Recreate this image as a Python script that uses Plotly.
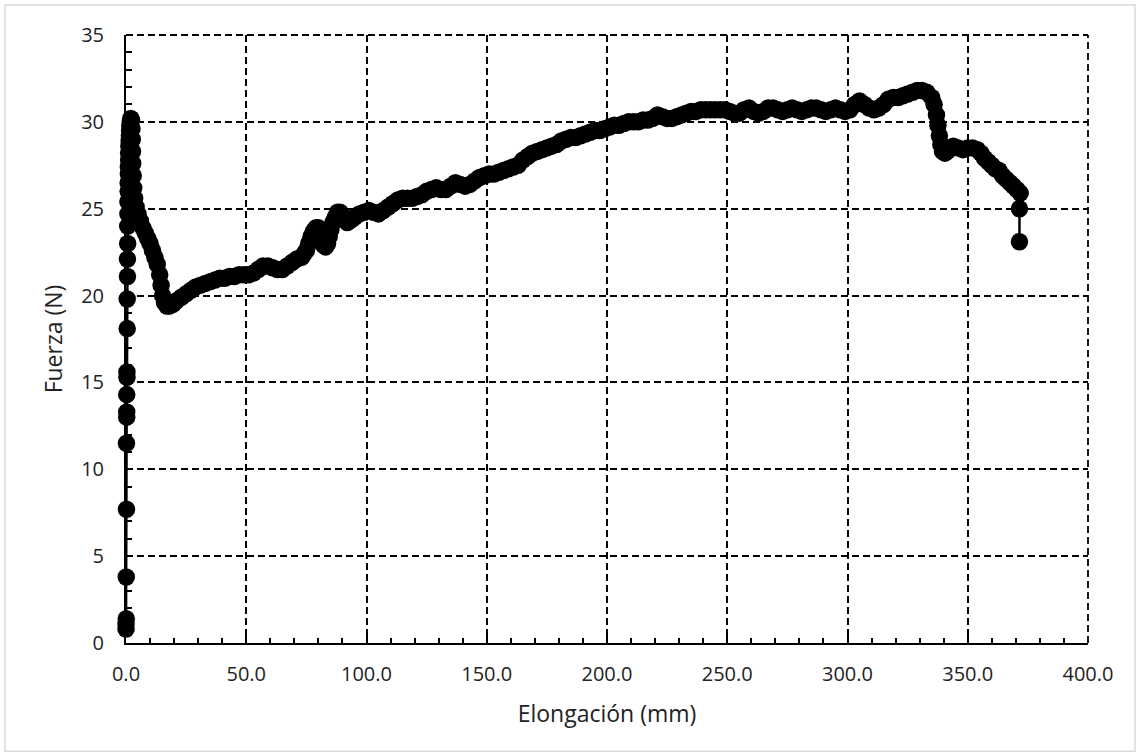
import plotly.graph_objects as go

elongacion = [
    0.0, 0.0, 0.1, 0.1, 0.2, 0.2, 0.3, 0.3, 0.3, 0.4, 0.4, 0.5, 0.5, 0.6, 0.6, 0.7, 0.7, 0.8, 0.8, 0.9,
    0.9, 1.0, 1.0, 1.1, 1.1, 1.2, 1.3, 1.4, 1.5, 1.6, 1.8, 2.0, 2.3, 2.5, 2.6, 2.7, 2.8, 3.0, 3.2, 3.6,
    4.2, 5.0, 6.0, 7.0, 8.0, 9.0, 10.0, 11.0, 12.0, 13.0, 14.0, 14.6, 15.2, 16.0, 17.0, 18.0, 19.5, 21.0,
    23, 25, 27, 29, 31, 33, 35, 37, 39, 41, 43, 45, 47, 49, 51, 53, 55, 57, 59, 61, 63, 65, 67, 69, 71,
    73, 74, 75, 76, 77, 78, 79, 80, 80.8, 81.5, 82.2, 83, 83.8, 84.5, 85.2, 86, 87, 88, 89, 90, 91, 92,
    93, 94, 95, 97, 99, 101, 103, 105, 107, 109, 111, 113,
    115, 117, 119, 121, 123, 125, 127, 129, 131, 133, 135, 137, 139, 141, 143, 145, 147, 149, 151, 153,
    155, 157, 159, 161, 163, 165, 167, 169, 171, 173, 175, 177, 179, 181, 183, 185, 187, 189, 191, 193,
    195, 197, 199, 201, 203, 205, 207, 209, 211, 213, 215, 217, 219, 221, 223, 225, 227, 229, 231, 233,
    235, 237, 239, 241, 243, 245, 247, 249, 251, 253, 255, 257, 259, 261, 263, 265, 267, 269, 271, 273,
    275, 277, 279, 281, 283, 285, 287, 289, 291, 293, 295, 297, 299, 301, 303, 305, 307, 309, 311, 313,
    315, 317, 319, 321, 323, 325, 327, 329, 331, 333, 335, 336, 337, 337.6, 338.2, 338.8, 339.5, 340.5,
    341.5, 342.5, 344, 346, 348, 350, 352, 354, 355.5, 357, 358.5, 360, 361.5, 363, 364.5, 366, 367.5,
    369, 370.5, 371.8, 371.5, 371.5,
]

fuerza = [
    0.8, 1.1, 1.4, 3.8, 7.7, 11.5, 13.0, 13.3, 14.3, 15.3, 15.6, 18.1, 19.8, 21.1, 22.1, 23.0, 24.0, 24.7, 25.4, 26.0,
    26.5, 27.0, 27.4, 27.8, 28.2, 28.6, 28.9, 29.2, 29.5, 29.8, 30.0, 30.2, 30.1, 29.6, 29.0, 28.3, 27.6, 26.9, 26.2, 25.6,
    25.1, 24.7, 24.3, 23.9, 23.6, 23.3, 23.0, 22.6, 22.2, 21.8, 21.2, 20.6, 20.0, 19.6, 19.4, 19.4, 19.5, 19.7,
    19.9, 20.1, 20.3, 20.5, 20.6, 20.7, 20.8, 20.9, 21.0, 21.0, 21.1, 21.1, 21.2, 21.2, 21.2, 21.3, 21.5, 21.7, 21.7, 21.6, 21.5, 21.5, 21.7, 21.9, 22.1,
    22.2, 22.4, 22.6, 23.0, 23.4, 23.7, 23.9, 23.9, 23.6, 23.2, 22.9, 22.8, 23.0, 23.4, 23.8, 24.2, 24.5, 24.8, 24.8, 24.6, 24.4, 24.2,
    24.3, 24.4, 24.5, 24.7, 24.8, 24.9, 24.8, 24.7, 24.9, 25.1, 25.3, 25.5,
    25.6, 25.6, 25.6, 25.7, 25.8, 26.0, 26.1, 26.2, 26.1, 26.1, 26.3, 26.5, 26.4, 26.3, 26.4, 26.6, 26.8, 26.9, 27.0, 27.0,
    27.1, 27.2, 27.3, 27.4, 27.5, 27.8, 28.0, 28.2, 28.3, 28.4, 28.5, 28.6, 28.7, 28.9, 29.0, 29.1, 29.1, 29.2, 29.3, 29.4,
    29.5, 29.5, 29.6, 29.7, 29.8, 29.8, 29.9, 30.0, 30.0, 30.0, 30.1, 30.1, 30.2, 30.4, 30.3, 30.2, 30.2, 30.3, 30.4, 30.5,
    30.6, 30.6, 30.7, 30.7, 30.7, 30.7, 30.7, 30.7, 30.6, 30.5, 30.5, 30.7, 30.8, 30.6, 30.5, 30.6, 30.8, 30.8, 30.7, 30.6,
    30.7, 30.8, 30.7, 30.6, 30.7, 30.8, 30.8, 30.7, 30.6, 30.7, 30.8, 30.7, 30.6, 30.7, 31.0, 31.2, 31.0, 30.8, 30.7, 30.8,
    31.0, 31.3, 31.4, 31.4, 31.5, 31.6, 31.7, 31.8, 31.8, 31.7, 31.4, 31.0, 30.4, 29.8, 29.2, 28.7, 28.3, 28.2,
    28.3, 28.5, 28.6, 28.5, 28.4, 28.5, 28.5, 28.4, 28.2, 27.9, 27.7, 27.5, 27.3, 27.2, 26.9, 26.7, 26.5,
    26.3, 26.1, 25.9, 25.0, 23.1,
]

x_ticks = [0, 50, 100, 150, 200, 250, 300, 350, 400]
x_tick_labels = ["0.0", "50.0", "100.0", "150.0", "200.0", "250.0", "300.0", "350.0", "400.0"]
y_ticks = [0, 5, 10, 15, 20, 25, 30, 35]

FONT = "Open Sans"
DASH = "7px,4px"

fig = go.Figure()
fig.add_trace(go.Scatter(
    x=elongacion, y=fuerza, mode="lines+markers",
    line=dict(color="black", width=2.5),
    marker=dict(color="black", size=17.5),
    showlegend=False, hoverinfo="skip", cliponaxis=False,
))

axis_common = dict(
    showline=True, linecolor="black", linewidth=2,
    showgrid=True, gridcolor="black", gridwidth=1.8, griddash=DASH,
    zeroline=False,
    ticks="inside", ticklen=7, tickcolor="black", tickwidth=1.5,
    tickfont=dict(family=FONT, size=20, color="#222"),
)

fig.update_xaxes(
    range=[0, 400], tickvals=x_ticks, ticktext=x_tick_labels,
    minor=dict(ticks="inside", dtick=10, ticklen=5, tickcolor="black", tickwidth=1.5, showgrid=False),
    title=dict(text="Elongación (mm)", font=dict(family=FONT, size=23, color="#222"), standoff=20),
    ticklabelstandoff=12,
    **axis_common,
)
fig.update_yaxes(
    range=[0, 35], tickvals=y_ticks,
    minor=dict(ticks="inside", dtick=1, ticklen=6, tickcolor="black", tickwidth=1.5, showgrid=False),
    title=dict(text="Fuerza (N)", font=dict(family=FONT, size=23, color="#222"), standoff=12),
    ticklabelstandoff=16,
    **axis_common,
)

fig.update_layout(
    width=1140, height=756,
    margin=dict(l=126, r=52, t=35, b=113),
    paper_bgcolor="white", plot_bgcolor="white",
    shapes=[
        dict(type="rect", xref="paper", yref="paper",
             x0=-0.1258, x1=1.0489, y0=-0.178, y1=1.0494,
             line=dict(color="#d9d9d9", width=1.5), fillcolor="rgba(0,0,0,0)", layer="below"),
        dict(type="line", xref="paper", yref="paper", x0=0, x1=1, y0=1, y1=1,
             line=dict(color="black", width=1.8, dash=DASH), layer="below"),
        dict(type="line", xref="paper", yref="paper", x0=1, x1=1, y0=0, y1=1,
             line=dict(color="black", width=1.8, dash=DASH), layer="below"),
    ],
)

fig.write_html("out.html")
